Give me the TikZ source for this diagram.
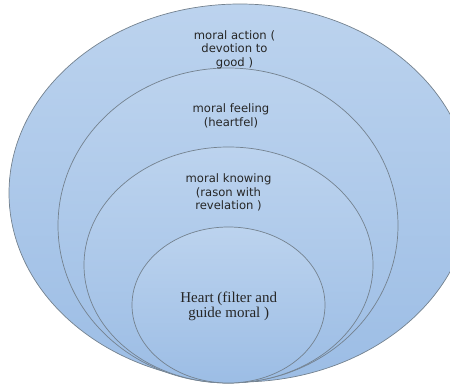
\documentclass[tikz,border=0pt]{standalone}
\usepackage{fontspec}
\setmainfont{Liberation Serif}
\newfontfamily\ringfont{DejaVu Sans}
\usetikzlibrary{shapes.geometric,positioning}
\definecolor{ringtop}{HTML}{BCD3EE}
\definecolor{ringbot}{HTML}{9CBDE5}
\definecolor{ringline}{HTML}{74828F}
\definecolor{ringtext}{HTML}{262626}

\begin{document}
\begin{tikzpicture}[x=1pt,y=-1pt,
    ring/.style={ellipse,draw=ringline,line width=0.7pt,top color=ringtop,bottom color=ringbot,inner sep=0pt},
    lbl/.style={align=center,text=ringtext,font=\ringfont\fontsize{11.6}{13.5}\selectfont},
    heartlbl/.style={align=center,text=ringtext,font=\fontsize{15}{13.5}\selectfont}]
          \useasboundingbox (0,0) rectangle (450,385);
          \clip (0,0) rectangle (450,385);
          \node[ring,minimum width=462pt,minimum height=378pt](action) at (240,193){};
          \node[ring,minimum width=340pt,minimum height=315pt](feeling) at (228,225.5){};
          \node[ring,minimum width=289pt,minimum height=236pt](knowing) at (228.5,265){};
          \node[ring,minimum width=193pt,minimum height=156pt](heart) at (228.5,305){};
          \node[lbl](actiontext) at (234.5,49.5){moral action (\\devotion to\\good )};
          \node[lbl](feelingtext) at (231,116){moral feeling\\(heartfel)};
          \node[lbl](knowingtext) at (228.5,192.5){moral knowing\\(rason with\\revelation )};
          \node[heartlbl](hearttext) at (228.7,306.5){Heart (filter and\\guide moral )};
        \end{tikzpicture}
\end{document}
